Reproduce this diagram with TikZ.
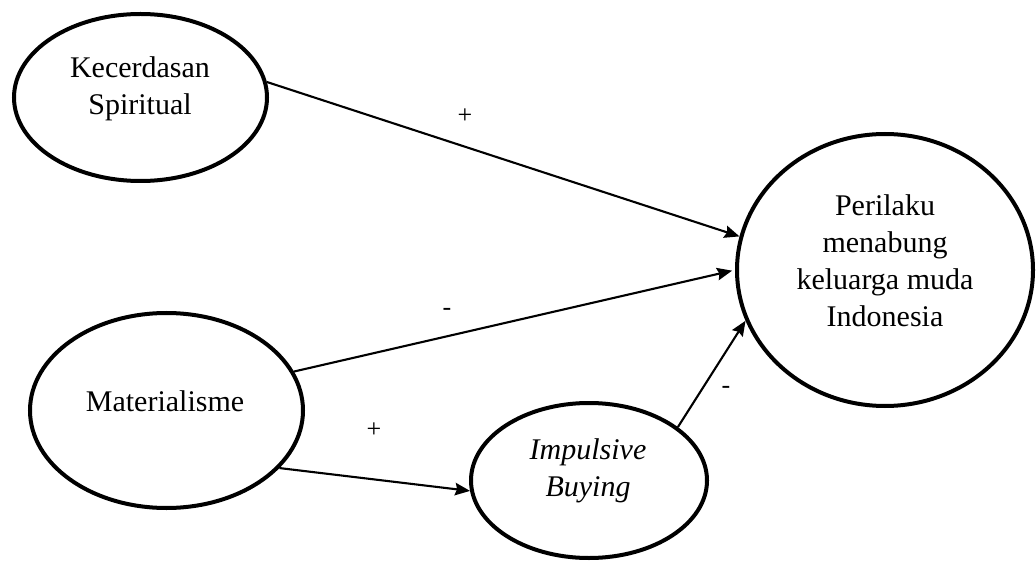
\documentclass[tikz,border=0pt]{standalone}
\usepackage{fontspec}
\setmainfont{Liberation Serif}
\usetikzlibrary{shapes.geometric,arrows.meta}
\tikzset{
  construct/.style={ellipse, draw, line width=4pt, inner sep=0pt},
  caption/.style={align=center, font=\fontsize{30}{37}\selectfont, inner sep=0pt},
  path arrow/.style={line width=2.1pt, -{Stealth[length=15pt,width=12.5pt,inset=2pt]}},
  sign/.style={font=\fontsize{26}{30}\selectfont, inner sep=0pt}
}
\begin{document}
\begin{tikzpicture}[x=1pt,y=-1pt]
  \useasboundingbox (0,0) rectangle (1036,561);

  % latent constructs
  \node[construct, minimum width=253pt, minimum height=167pt] (ks) at (140.5,97.5) {};
  \node[construct, minimum width=273pt, minimum height=195pt] (ma) at (166.5,410.5) {};
  \node[construct, minimum width=236pt, minimum height=155pt] (ib) at (589,480.5) {};
  \node[construct, minimum width=296pt, minimum height=272pt] (pe) at (885,270) {};

  % construct names
  \node[caption] (ks-t) at (140,89) {Kecerdasan\\Spiritual};
  \node[caption] (ma-t) at (165,401) {Materialisme};
  \node[caption, font=\fontsize{30}{37}\selectfont\itshape] (ib-t) at (588,471) {Impulsive\\Buying};
  \node[caption] (pe-t) at (885,261) {Perilaku\\menabung\\keluarga muda\\Indonesia};

  % hypothesised paths
  \draw[path arrow] (ks.7) -- (pe.167);
  \draw[path arrow, shorten >=3pt] (ma.17) -- (pe.180.5);
  \draw[path arrow] (ma.-27) -- (ib.185.5);
  \draw[path arrow] (ib.31) -- (pe.200);

  % path signs
  \node[sign] (s1) at (465,116) {+};
  \node[sign] (s2) at (447,312) {-};
  \node[sign] (s3) at (374,430) {+};
  \node[sign] (s4) at (726,390) {-};
\end{tikzpicture}
\end{document}
